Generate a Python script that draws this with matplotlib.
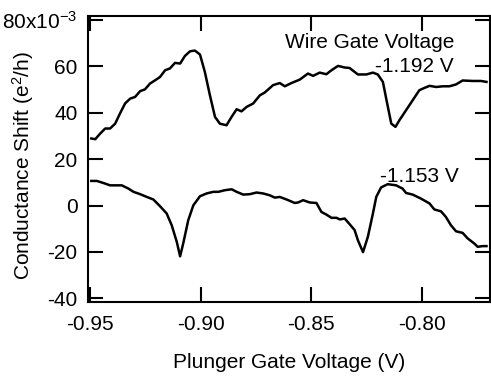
import numpy as np
import matplotlib
matplotlib.use("Agg")
import matplotlib.pyplot as plt
from matplotlib.ticker import MultipleLocator, FuncFormatter

plt.rcParams['font.family'] = ['Liberation Sans', 'DejaVu Sans']
plt.rcParams['mathtext.fontset'] = 'custom'
plt.rcParams['mathtext.rm'] = 'Liberation Sans'
plt.rcParams['mathtext.it'] = 'Liberation Sans:italic'
plt.rcParams['axes.unicode_minus'] = False

# upper trace, wire gate -1.192 V (conductance in units of 1e-3 e^2/h)
v_upper = [-0.9495, -0.9477, -0.9455, -0.9432, -0.9410, -0.9387, -0.9365, -0.9342,
           -0.9319, -0.9297, -0.9274, -0.9252, -0.9229, -0.9206, -0.9184, -0.9161,
           -0.9139, -0.9116, -0.9093, -0.9071, -0.9048, -0.9026, -0.9003, -0.8981,
           -0.8958, -0.8935, -0.8913, -0.8883, -0.8860, -0.8837, -0.8815, -0.8792,
           -0.8762, -0.8732, -0.8710, -0.8672, -0.8642, -0.8619, -0.8589, -0.8551,
           -0.8514, -0.8491, -0.8461, -0.8431, -0.8408, -0.8378, -0.8348, -0.8326,
           -0.8288, -0.8250, -0.8220, -0.8198, -0.8175, -0.8160, -0.8137, -0.8118,
           -0.8100, -0.8070, -0.8040, -0.8010, -0.7987, -0.7964, -0.7934, -0.7904,
           -0.7874, -0.7844, -0.7814, -0.7769, -0.7731, -0.7706]
g_upper = [28.9, 28.6, 31.0, 33.2, 33.2, 35.3, 39.7, 44.0,
           46.1, 46.8, 49.3, 50.1, 52.6, 54.0, 55.4, 58.3,
           59.1, 61.5, 61.2, 64.5, 66.5, 66.8, 65.1, 57.6,
           47.5, 38.2, 35.3, 34.6, 38.2, 41.5, 40.6, 42.5,
           44.0, 47.5, 48.7, 51.9, 52.8, 51.4, 52.8, 54.3,
           56.9, 55.9, 57.3, 56.6, 58.3, 60.2, 59.5, 59.3,
           56.5, 56.5, 57.3, 56.5, 53.3, 46.1, 35.3, 33.9,
           36.8, 41.1, 45.4, 49.7, 50.7, 51.6, 51.1, 51.4,
           51.4, 52.2, 53.9, 53.7, 53.7, 53.3]

# lower trace, wire gate -1.153 V
v_lower = [-0.9495, -0.9470, -0.9440, -0.9410, -0.9357, -0.9327, -0.9304, -0.9274,
           -0.9244, -0.9214, -0.9184, -0.9154, -0.9131, -0.9108, -0.9093, -0.9079,
           -0.9056, -0.9033, -0.9003, -0.8973, -0.8943, -0.8920, -0.8890, -0.8860,
           -0.8837, -0.8807, -0.8777, -0.8747, -0.8717, -0.8687, -0.8664, -0.8642,
           -0.8611, -0.8574, -0.8559, -0.8536, -0.8506, -0.8476, -0.8453, -0.8431,
           -0.8408, -0.8385, -0.8370, -0.8348, -0.8326, -0.8303, -0.8288, -0.8265,
           -0.8243, -0.8220, -0.8205, -0.8183, -0.8153, -0.8115, -0.8086, -0.8070,
           -0.8040, -0.8003, -0.7964, -0.7942, -0.7912, -0.7890, -0.7867, -0.7844,
           -0.7814, -0.7791, -0.7761, -0.7746, -0.7724, -0.7706]
g_lower = [10.6, 10.6, 9.7, 8.7, 8.7, 7.3, 5.9, 4.9,
           3.7, 2.6, -0.3, -3.4, -8.5, -15.7, -21.9, -16.4,
           -6.3, 0.1, 4.0, 5.2, 5.9, 5.9, 6.6, 7.0,
           5.9, 4.7, 4.9, 5.6, 5.2, 4.4, 3.4, 3.7,
           2.6, 1.1, 1.3, 2.3, 1.3, 1.1, -2.8, -3.9,
           -5.3, -5.3, -6.0, -5.6, -8.0, -10.6, -15.0, -20.1,
           -13.5, -3.4, 3.7, 7.8, 9.2, 8.7, 7.3, 5.4,
           4.7, 3.0, 0.9, -1.7, -2.5, -4.9, -8.5, -11.1,
           -11.8, -14.2, -16.4, -17.8, -17.5, -17.5]

fs = 15

fig = plt.figure(figsize=(4.91, 3.76), dpi=100)
ax = fig.add_axes([0.1792, 0.1968, 0.8188, 0.7606])

ax.plot(v_upper, g_upper, color='k', lw=1.8)
ax.plot(v_lower, g_lower, color='k', lw=1.8)

ax.set_xlim(-0.951, -0.769)
ax.set_ylim(-41.6, 81.7)
ax.xaxis.set_major_locator(MultipleLocator(0.05))
ax.yaxis.set_major_locator(MultipleLocator(20))
ax.xaxis.set_major_formatter(FuncFormatter(lambda v, p: f"{v:.2f}"))
ax.yaxis.set_major_formatter(
    FuncFormatter(lambda v, p: "80x10$^{-3}$" if round(v) == 80 else f"{v:.0f}"))

for s in ax.spines.values():
    s.set_linewidth(1.5)
ax.tick_params(direction='in', length=11, width=1.5, top=True, right=True,
               labelsize=fs)
ax.tick_params(axis='y', pad=7.5)
ax.tick_params(axis='x', pad=9)

ax.set_xlabel("Plunger Gate Voltage (V)", fontsize=fs, labelpad=14)
ax.set_ylabel("Conductance Shift (e$^{2}$/h)", fontsize=fs, va='center')
ax.yaxis.set_label_coords(-0.162, 0.476)

ax.text(-0.8619, 67.8, "Wire Gate Voltage", fontsize=fs, va='baseline')
ax.text(-0.8212, 57.5, "-1.192 V", fontsize=fs, va='baseline')
ax.text(-0.8190, 10.0, "-1.153 V", fontsize=fs, va='baseline')

fig.savefig("out.png", dpi=100)
